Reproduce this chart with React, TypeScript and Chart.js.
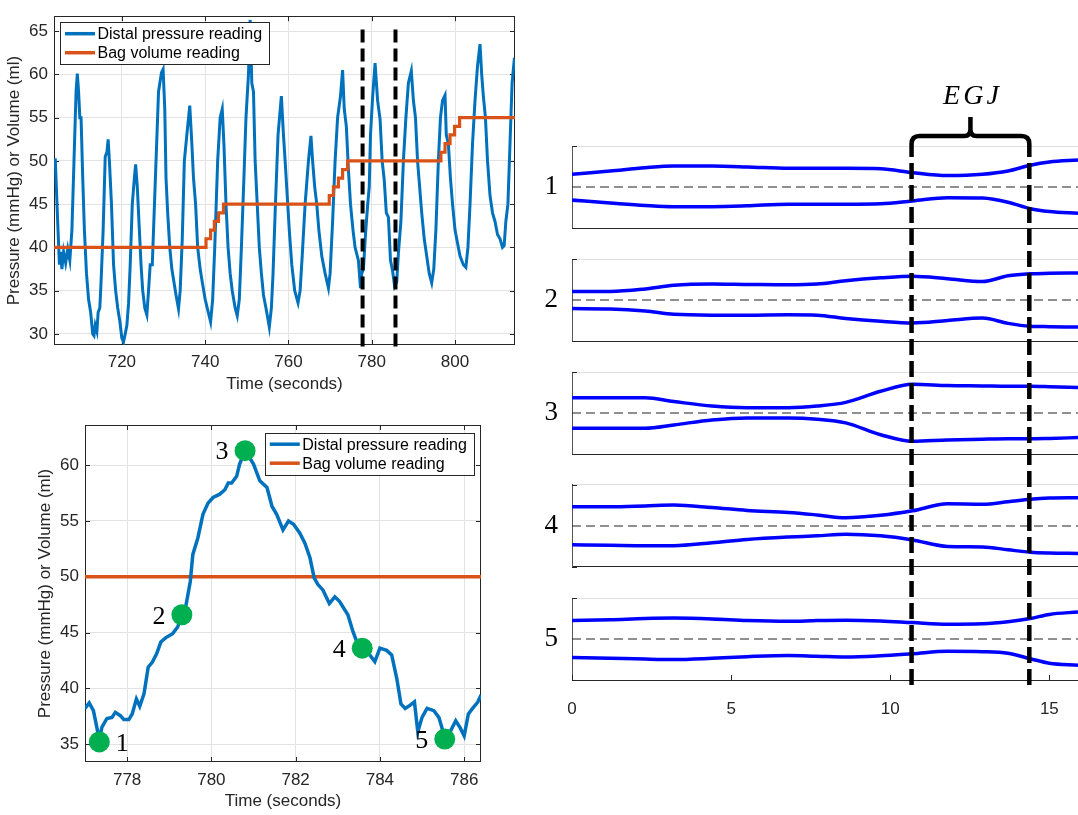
import React, { useEffect, useRef } from 'react';
import { Chart, registerables } from 'chart.js';

Chart.register(...registerables);

const SANS = '"Liberation Sans", Arial, Helvetica, sans-serif';
const SERIF = '"Liberation Serif", "DejaVu Serif", serif';
const BLUE = '#0072BD';
const ORANGE = '#D95319';
const GREEN = '#00B050';
const PROFILE_BLUE = '#0000FF';
const AXIS = '#262626';
const GRID = '#e3e3e3';

// ---------- Top-left: full recording ----------
const TOP_TIME = [
  704.0, 704.5, 705.0, 705.3, 705.6, 706.0, 706.5, 707.0, 707.5, 708.0, 708.5, 709.0, 709.3, 709.6, 709.9, 710.2,
  710.6, 711.0, 711.5, 712.0, 712.5, 713.0, 713.3, 713.6, 714.0, 714.3, 714.7, 715.0, 715.5, 716.0, 716.4, 716.7,
  717.0, 717.5, 718.0, 718.5, 719.0, 719.5, 720.0, 720.4, 720.8, 721.2, 721.6, 722.0, 722.5, 723.0, 723.3, 723.7,
  724.2, 724.6, 725.0, 725.5, 726.0, 726.4, 726.8, 727.3, 727.6, 728.2, 728.8, 729.5, 729.9, 730.3, 730.6, 731.0,
  731.5, 732.0, 732.5, 733.0, 733.6, 734.0, 734.5, 735.0, 735.6, 736.3, 736.8, 737.2, 737.7, 738.2, 738.8, 739.3,
  740.0, 740.5, 741.3, 741.8, 742.3, 743.0, 743.6, 744.1, 744.5, 745.0, 745.5, 746.0, 746.5, 747.2, 747.7, 748.2,
  748.7, 749.3, 749.8, 750.4, 750.8, 751.2, 751.6, 752.0, 752.5, 753.0, 753.5, 754.0, 754.6, 755.4, 755.9, 756.3,
  756.8, 757.5, 758.3, 758.8, 759.2, 759.7, 760.2, 760.8, 761.5, 762.3, 762.8, 763.3, 764.0, 764.8, 765.4, 765.8,
  766.3, 766.8, 767.3, 768.0, 768.8, 769.6, 770.0, 770.6, 771.2, 771.8, 772.5, 773.0, 773.4, 773.9, 774.4, 774.9,
  775.5, 776.0, 776.8, 777.3, 777.6, 778.0, 778.5, 779.0, 779.4, 779.7, 780.2, 780.8, 781.4, 782.0, 782.5, 783.0,
  783.5, 784.0, 784.5, 785.0, 785.5, 786.0, 786.4, 787.0, 787.6, 788.2, 788.8, 789.5, 790.0, 790.5, 791.0, 791.5,
  792.0, 792.6, 793.2, 793.8, 794.4, 794.9, 795.4, 796.0, 796.5, 797.0, 797.6, 797.9, 798.4, 798.9, 799.4, 800.0,
  800.6, 801.2, 802.0, 802.6, 803.1, 803.6, 804.2, 804.8, 805.4, 806.0, 806.4, 806.8, 807.3, 807.8, 808.4, 809.0,
  809.6, 810.2, 810.8, 811.4, 811.8, 812.2, 812.7, 813.2, 813.7, 814.2, 814.4,
];
const TOP_PRESSURE = [
  50.3, 44, 38, 39.5, 37.5, 39.5, 38.2, 39.8, 38.5, 42, 50, 58, 60.1, 58, 55, 55,
  48, 42, 37, 34, 32.5, 30, 29.8, 31, 30.3, 32.5, 33, 36, 42, 50.5, 51, 52.5,
  50, 45, 38, 35, 33, 31.5, 29.5, 29.1, 30, 31, 33.5, 38, 45, 48, 49.6, 47,
  42, 38, 35, 33, 32.2, 35, 38, 38, 42, 50, 58, 60.2, 60.6, 56, 48, 44,
  40, 37.5, 36, 34.5, 32.9, 35, 41, 50, 53, 56.4, 52, 48, 45, 40, 37.5, 36,
  34, 33, 31.4, 34, 40, 50, 55, 56, 52, 45, 40, 37, 35, 33, 32.1, 34,
  40, 48, 55, 60, 66.3, 59, 58, 50, 45, 40, 37, 34.5, 33, 30.8, 33, 37,
  44, 53, 57.5, 53, 50, 46, 42, 38, 35, 33.6, 35, 39, 45, 50, 52.9, 50,
  47, 45, 42, 39, 37, 35.3, 37, 43, 50, 55, 57.5, 60.5, 56, 54, 49, 45,
  42, 40, 38.5, 35.3, 37, 37.5, 41.5, 44.8, 47, 53, 57.3, 61.3, 57, 54.8, 50, 47.8,
  44, 43.5, 38.5, 37.3, 35.5, 36, 39.3, 43, 50, 55, 59, 60.4, 57, 55, 50, 47,
  44, 41, 39, 37, 35.9, 37.5, 42, 50, 55, 57, 57.6, 53, 52, 48, 45, 42,
  40.5, 39, 38, 37.7, 40, 45, 52, 57, 61, 63.5, 60, 57.5, 55, 50, 46, 44,
  43, 41.5, 41, 40, 40.2, 43, 45, 52, 59, 61.6, 61.5,
];
const BAG_TIME = [703.7, 740.2, 741.3, 742.2, 743.2, 744.4, 769.8, 770.8, 772.0, 773.0, 774.2, 796.6, 797.6, 798.8, 799.9, 801.1, 814.4];
const BAG_VOLUME = [40, 41, 42, 43, 44, 45, 46, 47, 48, 49, 50, 51, 52, 53, 54, 55, 55];
const WINDOW_BOUNDS = [777.8, 785.7];
const WINDOW_Y_SPAN = [65.2, 28.3];
const TOP_X_RANGE = [703.7, 814.4];
const TOP_Y_RANGE = [28.72, 66.73];

// ---------- Bottom-left: one swallow window ----------
const ZOOM_TIME = [
  777.0, 777.1, 777.2, 777.34, 777.4, 777.52, 777.64, 777.72, 777.84, 777.92, 778.04, 778.12, 778.22, 778.3, 778.4, 778.5,
  778.6, 778.7, 778.8, 778.92, 779.08, 779.2, 779.3, 779.4, 779.5, 779.56, 779.68, 779.8, 779.92, 780.04, 780.2, 780.32,
  780.4, 780.48, 780.6, 780.67, 780.8, 781.0, 781.15, 781.32, 781.44, 781.55, 781.7, 781.83, 781.95, 782.1, 782.22, 782.34,
  782.44, 782.53, 782.65, 782.8, 782.93, 783.04, 783.24, 783.36, 783.48, 783.58, 783.76, 783.88, 784.0, 784.16, 784.28, 784.4,
  784.5, 784.6, 784.72, 784.82, 784.9, 785.0, 785.12, 785.28, 785.4, 785.54, 785.68, 785.8, 785.9, 786.0, 786.1, 786.2,
  786.32, 786.4,
];
const ZOOM_PRESSURE = [
  38.2, 38.7, 38.0, 35.4, 36.5, 37.3, 37.4, 37.85, 37.55, 37.2, 37.2, 37.7, 39.05, 38.4, 39.5, 41.9,
  42.35, 43.1, 44.15, 44.55, 44.9, 45.5, 46.6, 47.5, 49.6, 52.0, 53.5, 55.6, 56.6, 57.1, 57.4, 57.8,
  58.4, 58.4, 59.0, 60.1, 61.3, 60.1, 58.6, 58.0, 56.3, 55.6, 54.2, 55.0, 54.7, 53.9, 53.0, 51.7,
  49.9, 49.3, 48.8, 47.6, 48.2, 47.8, 46.6, 45.1, 43.9, 43.6, 43.0, 42.4, 43.6, 43.4, 43.0, 40.9,
  38.6, 38.2, 38.5, 38.8, 36.1, 37.4, 38.2, 38.0, 37.4, 35.6, 36.2, 37.1, 36.5, 35.75, 37.7, 38.2,
  38.75, 39.4,
];
const ZOOM_BAG_TIME = [777.0, 786.4];
const ZOOM_BAG_VOLUME = [50, 50];
const MARK_TIME = [777.34, 779.3, 780.8, 783.58, 785.54];
const MARK_PRESSURE = [35.2, 46.6, 61.3, 43.6, 35.45];
const MARK_LABELS = ['1', '2', '3', '4', '5'];
const ZOOM_X_RANGE = [777.0, 786.4];
const ZOOM_Y_RANGE = [33.4, 63.6];

// ---------- Right: lumen profiles ----------
const PROFILE_X = [0, 1.2, 2.3, 3.2, 4.4, 5.5, 6.8, 7.7, 8.6, 9.7, 10.7, 11.8, 12.9, 13.7, 14.4, 15.0, 15.9];
const PROFILE_NAMES = ['1', '2', '3', '4', '5'];
const UPPER_1 = [0.31, 0.39, 0.47, 0.51, 0.51, 0.49, 0.455, 0.455, 0.455, 0.445, 0.35, 0.28, 0.31, 0.39, 0.53, 0.61, 0.66];
const LOWER_1 = [-0.32, -0.39, -0.45, -0.48, -0.48, -0.46, -0.42, -0.42, -0.42, -0.41, -0.34, -0.26, -0.27, -0.37, -0.53, -0.6, -0.64];
const UPPER_2 = [0.21, 0.21, 0.27, 0.36, 0.39, 0.38, 0.37, 0.39, 0.47, 0.54, 0.58, 0.52, 0.45, 0.59, 0.64, 0.65, 0.66];
const LOWER_2 = [-0.21, -0.22, -0.27, -0.35, -0.37, -0.37, -0.36, -0.37, -0.45, -0.52, -0.56, -0.5, -0.44, -0.57, -0.64, -0.65, -0.66];
const UPPER_3 = [0.37, 0.37, 0.37, 0.28, 0.17, 0.13, 0.13, 0.17, 0.26, 0.53, 0.7, 0.67, 0.66, 0.65, 0.65, 0.64, 0.62];
const LOWER_3 = [-0.37, -0.37, -0.37, -0.29, -0.17, -0.12, -0.12, -0.15, -0.24, -0.53, -0.69, -0.66, -0.64, -0.63, -0.63, -0.62, -0.6];
const UPPER_4 = [0.47, 0.47, 0.49, 0.51, 0.45, 0.38, 0.33, 0.27, 0.2, 0.26, 0.37, 0.54, 0.53, 0.59, 0.65, 0.68, 0.69];
const LOWER_4 = [-0.46, -0.47, -0.48, -0.48, -0.41, -0.33, -0.27, -0.24, -0.2, -0.24, -0.34, -0.5, -0.51, -0.58, -0.64, -0.66, -0.67];
const UPPER_5 = [0.45, 0.47, 0.5, 0.51, 0.49, 0.45, 0.43, 0.45, 0.46, 0.44, 0.4, 0.36, 0.37, 0.42, 0.5, 0.6, 0.66];
const LOWER_5 = [-0.45, -0.47, -0.49, -0.5, -0.47, -0.43, -0.4, -0.42, -0.44, -0.41, -0.36, -0.3, -0.31, -0.35, -0.48, -0.59, -0.64];
const UPPERS = [UPPER_1, UPPER_2, UPPER_3, UPPER_4, UPPER_5];
const LOWERS = [LOWER_1, LOWER_2, LOWER_3, LOWER_4, LOWER_5];
const PROFILE_X_RANGE = [0, 15.9];
const PROFILE_X_TICKS = 5;
const EGJ_BOUNDS = [10.67, 14.37];
const EGJ_LABEL = 'EGJ';

// style constants for number labels next to the markers
const MARK_LABEL_SIDE = [1, -1, -1, -1, -1];

function xy(xs: number[], ys: number[]) {
  return xs.map((x, i) => ({ x, y: ys[i] }));
}

// MATLAB-like axes box with inward ticks
const boxPlugin = {
  id: 'matlabBox',
  beforeDatasetsDraw(chart: any) {
    const { ctx, chartArea: a, scales } = chart;
    ctx.save();
    ctx.strokeStyle = AXIS;
    ctx.lineWidth = 1;
    ctx.strokeRect(Math.round(a.left) + 0.5, Math.round(a.top) + 0.5, Math.round(a.width) - 1, Math.round(a.height) - 1);
    const tl = 5;
    ctx.beginPath();
    scales.x.ticks.forEach((t: any) => {
      const px = Math.round(scales.x.getPixelForValue(t.value)) + 0.5;
      ctx.moveTo(px, a.bottom); ctx.lineTo(px, a.bottom - tl);
      ctx.moveTo(px, a.top); ctx.lineTo(px, a.top + tl);
    });
    scales.y.ticks.forEach((t: any) => {
      const py = Math.round(scales.y.getPixelForValue(t.value)) + 0.5;
      ctx.moveTo(a.left, py); ctx.lineTo(a.left + tl, py);
      ctx.moveTo(a.right, py); ctx.lineTo(a.right - tl, py);
    });
    ctx.stroke();
    ctx.restore();
  },
};

// Boxed legend drawn inside the plot area
const boxLegendPlugin = {
  id: 'boxLegend',
  afterDatasetsDraw(chart: any, _args: any, opts: any) {
    const { ctx, chartArea: a } = chart;
    const items = chart.data.datasets.filter((d: any) => d.label);
    ctx.save();
    ctx.font = `16px ${SANS}`;
    const textW = Math.max(...items.map((d: any) => ctx.measureText(d.label).width));
    const lineLen = 30, padL = 5, gap = 2.5, padR = 6.5, rowH = 19, padT = 11.5;
    const w = padL + lineLen + gap + textW + padR;
    const h = padT * 2 + rowH * (items.length - 1);
    const x = opts.corner === 'tr' ? a.right - opts.margin - w : a.left + opts.margin;
    const y = a.top + opts.margin;
    ctx.fillStyle = '#ffffff';
    ctx.fillRect(x, y, w, h);
    ctx.strokeStyle = AXIS;
    ctx.lineWidth = 1;
    ctx.strokeRect(Math.round(x) + 0.5, Math.round(y) + 0.5, Math.round(w), Math.round(h));
    items.forEach((d: any, i: number) => {
      const cy = y + padT + i * rowH;
      ctx.strokeStyle = d.borderColor;
      ctx.lineWidth = 3.5;
      ctx.beginPath();
      ctx.moveTo(x + padL, cy);
      ctx.lineTo(x + padL + lineLen, cy);
      ctx.stroke();
      ctx.fillStyle = '#000';
      ctx.textBaseline = 'middle';
      ctx.textAlign = 'left';
      ctx.fillText(d.label, x + padL + lineLen + gap, cy + 1);
    });
    ctx.restore();
  },
};

const markLabelPlugin = {
  id: 'markLabels',
  afterDatasetsDraw(chart: any, _args: any, opts: any) {
    const { ctx } = chart;
    const meta = chart.getDatasetMeta(opts.datasetIndex);
    ctx.save();
    ctx.font = `26px ${SERIF}`;
    ctx.fillStyle = '#000';
    ctx.textAlign = 'center';
    ctx.textBaseline = 'middle';
    meta.data.forEach((pt: any, i: number) => {
      ctx.fillText(MARK_LABELS[i], pt.x + MARK_LABEL_SIDE[i] * 23, pt.y + 2);
    });
    ctx.restore();
  },
};

const egjPlugin = {
  id: 'egj',
  beforeDatasetsDraw(chart: any) {
    const { ctx, chartArea: a, scales } = chart;
    ctx.save();
    ctx.strokeStyle = AXIS;
    ctx.lineWidth = 1;
    ctx.beginPath();
    scales.x.ticks.forEach((t: any) => {
      const px = Math.round(scales.x.getPixelForValue(t.value)) + 0.5;
      ctx.moveTo(px, a.bottom); ctx.lineTo(px, a.bottom - 5);
    });
    PROFILE_NAMES.forEach((_n, i) => {
      const s = scales['p' + i];
      [s.top, s.bottom].forEach((yy: number) => {
        const py = Math.round(yy) + 0.5;
        ctx.moveTo(a.left, py); ctx.lineTo(a.left + 5, py);
      });
    });
    ctx.stroke();
    ctx.restore();
  },
  afterDatasetsDraw(chart: any) {
    const { ctx, chartArea: a, scales } = chart;
    const [xa, xb] = EGJ_BOUNDS.map((v) => scales.x.getPixelForValue(v));
    const mid = (xa + xb) / 2;
    const by = a.top - 10;
    const r = 8;
    ctx.save();
    ctx.strokeStyle = '#000';
    ctx.lineWidth = 4.5;
    ctx.lineCap = 'butt';
    ctx.lineJoin = 'round';
    ctx.beginPath();
    ctx.moveTo(xa, a.top + 11);
    ctx.lineTo(xa, by + r);
    ctx.quadraticCurveTo(xa, by, xa + r, by);
    ctx.lineTo(mid - 6, by);
    ctx.quadraticCurveTo(mid, by, mid, by - 7);
    ctx.lineTo(mid, by - 19);
    ctx.moveTo(mid, by - 7);
    ctx.quadraticCurveTo(mid, by, mid + 6, by);
    ctx.lineTo(xb - r, by);
    ctx.quadraticCurveTo(xb, by, xb, by + r);
    ctx.lineTo(xb, a.top + 11);
    ctx.stroke();
    ctx.setLineDash([16, 6]);
    ctx.lineDashOffset = -6;
    [xa, xb].forEach((px) => {
      ctx.beginPath();
      ctx.moveTo(px, a.top + 11);
      ctx.lineTo(px, a.bottom + 10);
      ctx.stroke();
    });
    ctx.setLineDash([]);
    ctx.fillStyle = '#000';
    ctx.font = `italic 28px ${SERIF}`;
    (ctx as any).letterSpacing = '3px';
    ctx.textAlign = 'center';
    ctx.textBaseline = 'middle';
    ctx.fillText(EGJ_LABEL, mid + 2, by - 39);
    ctx.restore();
  },
};

const tickFont = { family: SANS, size: 17 };

function topConfig(): any {
  return {
    type: 'line',
    data: {
      datasets: [
        { label: 'Distal pressure reading', data: xy(TOP_TIME, TOP_PRESSURE), borderColor: BLUE, borderWidth: 3, pointRadius: 0, tension: 0, order: 3 },
        { label: 'Bag volume reading', data: xy(BAG_TIME, BAG_VOLUME), borderColor: ORANGE, borderWidth: 3.2, pointRadius: 0, stepped: 'before', order: 2 },
        ...WINDOW_BOUNDS.map((t) => ({
          data: [{ x: t, y: WINDOW_Y_SPAN[0] }, { x: t, y: WINDOW_Y_SPAN[1] }],
          borderColor: '#000', borderWidth: 4, borderDash: [13, 6], pointRadius: 0, clip: false, order: 1,
        })),
      ],
    },
    options: {
      animation: false, responsive: false, events: [],
      layout: { padding: { top: 7, right: 15, left: 0, bottom: 0 } },
      plugins: { legend: { display: false }, tooltip: { enabled: false }, boxLegend: { corner: 'tl', margin: 6 } },
      scales: {
        x: {
          type: 'linear', min: TOP_X_RANGE[0], max: TOP_X_RANGE[1],
          afterFit: (s: any) => { s.height = 55; },
          ticks: { stepSize: 20, includeBounds: false, padding: 7, color: AXIS, font: tickFont, maxRotation: 0 },
          grid: { color: GRID, drawTicks: false }, border: { display: false },
          title: { display: true, text: 'Time (seconds)', color: AXIS, font: tickFont, padding: { top: 4, bottom: 5 } },
        },
        y: {
          type: 'linear', min: TOP_Y_RANGE[0], max: TOP_Y_RANGE[1],
          afterFit: (s: any) => { s.width = 54; },
          ticks: { stepSize: 5, includeBounds: false, padding: 6, color: AXIS, font: tickFont },
          grid: { color: GRID, drawTicks: false }, border: { display: false },
          title: { display: true, text: 'Pressure (mmHg) or Volume (ml)', color: AXIS, font: tickFont, padding: { top: 4, bottom: 4 } },
        },
      },
    },
    plugins: [boxPlugin, boxLegendPlugin],
  };
}

function bottomConfig(): any {
  return {
    type: 'line',
    data: {
      datasets: [
        { label: 'Distal pressure reading', data: xy(ZOOM_TIME, ZOOM_PRESSURE), borderColor: BLUE, borderWidth: 3.5, pointRadius: 0, tension: 0, order: 2 },
        { label: 'Bag volume reading', data: xy(ZOOM_BAG_TIME, ZOOM_BAG_VOLUME), borderColor: ORANGE, borderWidth: 3.5, pointRadius: 0, order: 3 },
        { data: xy(MARK_TIME, MARK_PRESSURE), showLine: false, pointRadius: 10.5, pointBackgroundColor: GREEN, pointBorderWidth: 0, borderColor: GREEN, order: 1, clip: false },
      ],
    },
    options: {
      animation: false, responsive: false, events: [],
      layout: { padding: { top: 25, right: 49, left: 0, bottom: 0 } },
      plugins: { legend: { display: false }, tooltip: { enabled: false }, boxLegend: { corner: 'tr', margin: 7.7 }, markLabels: { datasetIndex: 2 } },
      scales: {
        x: {
          type: 'linear', min: ZOOM_X_RANGE[0], max: ZOOM_X_RANGE[1],
          afterFit: (s: any) => { s.height = 53; },
          ticks: { stepSize: 2, includeBounds: false, padding: 8, color: AXIS, font: tickFont, maxRotation: 0 },
          grid: { color: GRID, drawTicks: false }, border: { display: false },
          title: { display: true, text: 'Time (seconds)', color: AXIS, font: tickFont, padding: { top: 4, bottom: 3 } },
        },
        y: {
          type: 'linear', min: ZOOM_Y_RANGE[0], max: ZOOM_Y_RANGE[1],
          afterFit: (s: any) => { s.width = 54; },
          ticks: { stepSize: 5, includeBounds: false, padding: 6, color: AXIS, font: tickFont },
          grid: { color: GRID, drawTicks: false }, border: { display: false },
          title: { display: true, text: 'Pressure (mmHg) or Volume (ml)', color: AXIS, font: tickFont, padding: { top: 4, bottom: 4 } },
        },
      },
    },
    plugins: [boxPlugin, boxLegendPlugin, markLabelPlugin],
  };
}

function rightConfig(): any {
  const scales: any = {
    x: {
      type: 'linear', position: 'bottom', min: PROFILE_X_RANGE[0], max: PROFILE_X_RANGE[1],
      afterFit: (s: any) => { s.height = 50; },
      ticks: { stepSize: PROFILE_X_TICKS, includeBounds: false, padding: 11, color: AXIS, font: tickFont, maxRotation: 0 },
      grid: { display: false },
      border: { display: true, color: AXIS, width: 1 },
    },
  };
  const datasets: any[] = [];
  PROFILE_NAMES.forEach((name, i) => {
    const id = 'p' + i;
    scales[id] = {
      type: 'linear', position: 'left', stack: 'profiles', stackWeight: 82, weight: 100 - 2 * i,
      min: -1, max: 1,
      afterFit: (s: any) => { s.width = 42; },
      ticks: {
        stepSize: 1, autoSkip: false, padding: 14, color: '#000',
        font: { family: SERIF, size: 27 },
        callback: (v: number) => (v === 0 ? name : ''),
      },
      grid: {
        drawTicks: false, lineWidth: 1,
        color: (c: any) => (c.tick && c.tick.value === 1 ? '#e0e0e0' : c.tick && c.tick.value === -1 ? AXIS : 'rgba(0,0,0,0)'),
      },
      border: { display: true, color: '#555555', width: 1 },
    };
    if (i < PROFILE_NAMES.length - 1) {
      scales['g' + i] = {
        type: 'linear', position: 'left', stack: 'profiles', stackWeight: 31, weight: 99 - 2 * i,
        display: true, min: 0, max: 1,
        afterFit: (s: any) => { s.width = 0; },
        ticks: { display: false }, grid: { display: false }, border: { display: false },
      };
    }
    datasets.push({ data: xy(PROFILE_X, UPPERS[i]), yAxisID: id, borderColor: PROFILE_BLUE, borderWidth: 3.5, pointRadius: 0, cubicInterpolationMode: 'monotone' });
    datasets.push({ data: xy(PROFILE_X, LOWERS[i]), yAxisID: id, borderColor: PROFILE_BLUE, borderWidth: 3.5, pointRadius: 0, cubicInterpolationMode: 'monotone' });
    datasets.push({
      data: [{ x: PROFILE_X_RANGE[0], y: 0 }, { x: PROFILE_X_RANGE[1], y: 0 }],
      yAxisID: id, borderColor: '#222222', borderWidth: 1.1, borderDash: [9, 5], pointRadius: 0,
    });
  });
  return {
    type: 'line',
    data: { datasets },
    options: {
      animation: false, responsive: false, events: [],
      layout: { padding: { top: 86, right: 0, left: 0, bottom: 0 } },
      plugins: { legend: { display: false }, tooltip: { enabled: false } },
      scales,
    },
    plugins: [egjPlugin],
  };
}

export default function App() {
  const topRef = useRef<HTMLCanvasElement>(null);
  const botRef = useRef<HTMLCanvasElement>(null);
  const rightRef = useRef<HTMLCanvasElement>(null);

  useEffect(() => {
    const charts = [
      new Chart(topRef.current as HTMLCanvasElement, topConfig()),
      new Chart(botRef.current as HTMLCanvasElement, bottomConfig()),
      new Chart(rightRef.current as HTMLCanvasElement, rightConfig()),
    ];
    return () => charts.forEach((c) => c.destroy());
  }, []);

  return (
    <div>
      <canvas ref={topRef} width={530} height={400} style={{ position: 'absolute', left: 0, top: 0, width: 530, height: 400 }} />
      <canvas ref={botRef} width={499} height={415} style={{ position: 'absolute', left: 31, top: 400, width: 499, height: 415 }} />
      <canvas ref={rightRef} width={548} height={670} style={{ position: 'absolute', left: 530, top: 60, width: 548, height: 670 }} />
    </div>
  );
}
